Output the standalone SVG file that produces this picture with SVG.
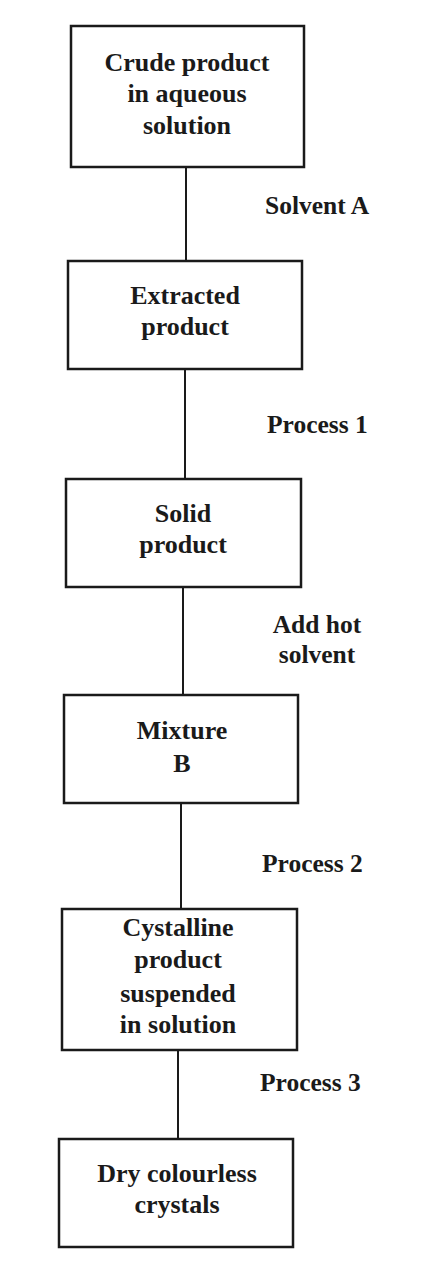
<svg xmlns="http://www.w3.org/2000/svg" width="424" height="1262" viewBox="0 0 424 1262">
<style>
.box{fill:#fff;stroke:#1a1a1a;stroke-width:2.5}
.con{stroke:#1a1a1a;stroke-width:2;fill:none}
text{font-family:"Liberation Serif","Times New Roman",serif;font-weight:bold;font-size:26px;fill:#1a1a1a}
.c{text-anchor:middle}
.lab{font-size:25.5px}
</style>
<rect width="424" height="1262" fill="#fff"/>
<g id="connectors">
<line class="con" x1="186" y1="167" x2="186" y2="261"/>
<line class="con" x1="185" y1="369" x2="185" y2="479"/>
<line class="con" x1="183" y1="587" x2="183" y2="695"/>
<line class="con" x1="181" y1="803" x2="181" y2="909"/>
<line class="con" x1="178" y1="1050" x2="178" y2="1139"/>
<text class="lab" x="265" y="214">Solvent A</text>
<text class="lab" x="267" y="433">Process 1</text>
<text class="lab c" x="317" y="633">Add hot</text>
<text class="lab c" x="317" y="663">solvent</text>
<text class="lab" x="262" y="872">Process 2</text>
<text class="lab" x="260" y="1091">Process 3</text>
</g>
<g id="n1">
<rect class="box" x="71" y="26" width="233" height="141"/>
<text class="c" x="187" y="71">Crude product</text>
<text class="c" x="187" y="102">in aqueous</text>
<text class="c" x="187" y="134">solution</text>
</g>
<g id="n2">
<rect class="box" x="68" y="261" width="234" height="108"/>
<text class="c" x="185" y="304">Extracted</text>
<text class="c" x="185" y="335">product</text>
</g>
<g id="n3">
<rect class="box" x="66" y="479" width="235" height="108"/>
<text class="c" x="183" y="522">Solid</text>
<text class="c" x="183" y="553">product</text>
</g>
<g id="n4">
<rect class="box" x="64" y="695" width="234" height="108"/>
<text class="c" x="182" y="739">Mixture</text>
<text class="c" x="182" y="772">B</text>
</g>
<g id="n5">
<rect class="box" x="62" y="909" width="235" height="141"/>
<text class="c" x="178" y="936">Cystalline</text>
<text class="c" x="178" y="968">product</text>
<text class="c" x="178" y="1002">suspended</text>
<text class="c" x="178" y="1033">in solution</text>
</g>
<g id="n6">
<rect class="box" x="59" y="1139" width="234" height="108"/>
<text class="c" x="177" y="1182">Dry colourless</text>
<text class="c" x="177" y="1213">crystals</text>
</g>
</svg>
